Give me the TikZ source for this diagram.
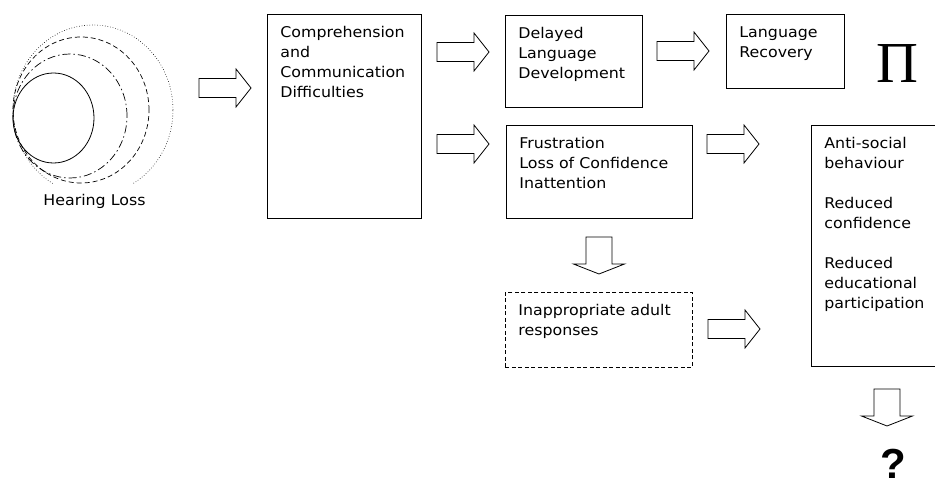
\documentclass[tikz,border=0pt]{standalone}
\usepackage{fontspec}
\setmainfont{DejaVu Sans}[FakeStretch=1.07]
\newfontfamily\pifont{Liberation Serif}
\newfontfamily\qfont{Liberation Sans}
\usetikzlibrary{positioning, calc}

\tikzset{
    rarrow/.pic={\draw[line width=0.8pt] (0,-9.5) -- (37,-9.5) -- (37,-19) -- (52,0) -- (37,19) -- (37,9.5) -- (0,9.5) -- cycle;},
    darrow/.pic={\draw[line width=0.8pt] (-13,0) -- (13,0) -- (13,27) -- (25.5,27) -- (0,37) -- (-25.5,27) -- (-13,27) -- cycle;}
}

\begin{document}
\begin{tikzpicture}[
    x=1pt, y=-1pt,
    box/.style={draw, line width=0.8pt, anchor=north west, inner xsep=13pt, inner ysep=0pt, align=left, text height=23pt, font=\fontsize{14.8}{20}\selectfont},
    txt/.style={font=\fontsize{14.8}{20}\selectfont}
]
    \fill[white] (0,0) rectangle (935,486);
    \useasboundingbox (0,0) rectangle (935,486);

    % --- Hearing loss rings ---
    \begin{scope}
        \clip (0,0) rectangle (260,184);
        \draw[line width=0.6pt, dotted] (93,110) ellipse [x radius=80pt, y radius=85pt];
    \end{scope}
    \draw[line width=0.7pt, dash pattern=on 5pt off 3pt] (81,110) ellipse [x radius=68pt, y radius=73pt];
    \draw[line width=0.7pt, dash pattern=on 8pt off 3pt on 1.5pt off 3pt] (70,116) ellipse [x radius=57pt, y radius=62pt];
    \draw[line width=0.8pt] (53.5,118) ellipse [x radius=40.5pt, y radius=45pt];
    \node[txt, anchor=base] (hear) at (94.5,206) {Hearing Loss};

    % --- Boxes ---
    \node[box, text width=128pt, text depth=181pt] (comp) at (267,14) {Comprehension\\and\\Communication\\Difficulties};
    \node[box, text width=111pt, text depth=69pt] (delay) at (505,15) {Delayed\\Language\\Development};
    \node[box, text width=92pt, text depth=51pt] (recov) at (726,14) {Language\\Recovery};
    \node[box, text width=160pt, text depth=70pt] (frus) at (506,125) {Frustration\\Loss of Confidence\\Inattention};
    \node[box, text width=114pt, text depth=218pt] (anti) at (811,125) {Anti-social\\behaviour\\[20pt]Reduced\\confidence\\[20pt]Reduced\\educational\\participation};
    \node[box, dash pattern=on 4pt off 2.5pt, text width=161pt, text depth=52pt] (adult) at (505,292) {Inappropriate adult\\responses};

    % --- Block arrows ---
    \pic (arrHear) at (199,88) {rarrow};
    \pic (arrDelay) at (437,52) {rarrow};
    \pic (arrFrus) at (437,144) {rarrow};
    \pic (arrRecov) at (657,51) {rarrow};
    \pic (arrAnti) at (707,144) {rarrow};
    \pic (arrAdult) at (708,329) {rarrow};
    \pic (downFrus) at (599,237) {darrow};
    \pic (downAnti) at (887,389) {darrow};

    % --- Symbols ---
    \node[anchor=base, inner sep=0pt, font=\pifont\fontsize{58}{58}\selectfont] (pi) at (897,83) {Π};
    \node[anchor=base, inner sep=0pt, font=\qfont\bfseries\fontsize{42}{42}\selectfont] (quest) at (893,478) {?};
\end{tikzpicture}
\end{document}
